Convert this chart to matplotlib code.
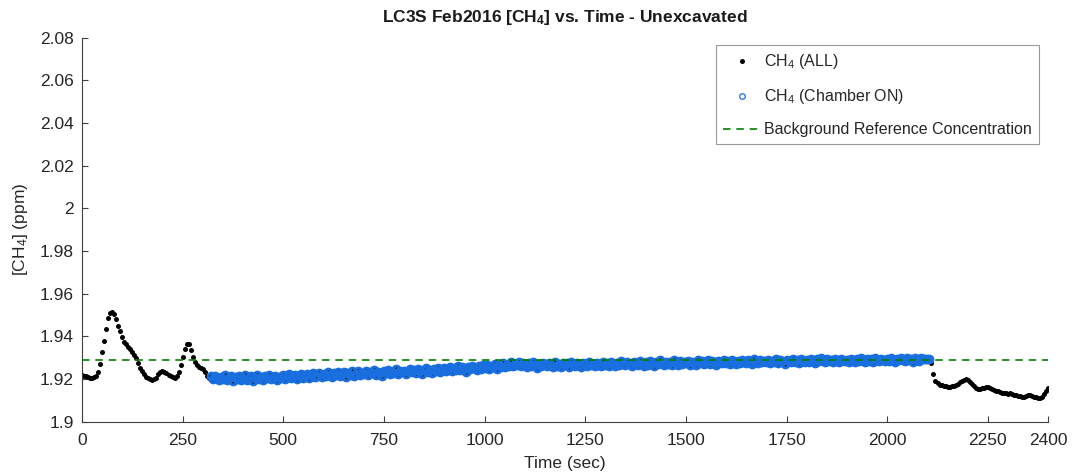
import numpy as np
import matplotlib
matplotlib.use("Agg")
import matplotlib.pyplot as plt
from matplotlib.ticker import FormatStrFormatter

plt.rcParams['font.family'] = ['Liberation Sans', 'DejaVu Sans']
plt.rcParams['mathtext.fontset'] = 'custom'
plt.rcParams['mathtext.rm'] = 'Liberation Sans'
plt.rcParams['mathtext.it'] = 'Liberation Sans:italic'
plt.rcParams['mathtext.bf'] = 'Liberation Sans:bold'

# analyser log, one reading every 5 s
sample_step = 5
ch4_ppm = [
    1.9220, 1.9216, 1.9213, 1.9210, 1.9207, 1.9206, 1.9208, 1.9212, 1.9232, 1.9272,
    1.9325, 1.9378, 1.9435, 1.9484, 1.9509, 1.9514, 1.9503, 1.9480, 1.9447, 1.9423,
    1.9395, 1.9372, 1.9362, 1.9352, 1.9341, 1.9327, 1.9312, 1.9298, 1.9276, 1.9254,
    1.9237, 1.9222, 1.9210, 1.9203, 1.9198, 1.9196, 1.9198, 1.9206, 1.9222, 1.9235,
    1.9238, 1.9234, 1.9227, 1.9220, 1.9213, 1.9208, 1.9204, 1.9212, 1.9232, 1.9265,
    1.9305, 1.9342, 1.9365, 1.9362, 1.9336, 1.9305, 1.9280, 1.9264, 1.9258, 1.9252,
    1.9246, 1.9232, 1.9215, 1.9206, 1.9212, 1.9198, 1.9215, 1.9203, 1.9194, 1.9210,
    1.9201, 1.9217, 1.9196, 1.9206, 1.9213, 1.9192, 1.9209, 1.9200, 1.9215, 1.9197,
    1.9203, 1.9218, 1.9195, 1.9207, 1.9212, 1.9190, 1.9204, 1.9219, 1.9199, 1.9208,
    1.9196, 1.9214, 1.9203, 1.9221, 1.9198, 1.9206, 1.9216, 1.9194, 1.9211, 1.9205,
    1.9217, 1.9200, 1.9213, 1.9224, 1.9203, 1.9210, 1.9219, 1.9198, 1.9215, 1.9226,
    1.9207, 1.9212, 1.9223, 1.9204, 1.9218, 1.9228, 1.9209, 1.9216, 1.9230, 1.9211,
    1.9225, 1.9212, 1.9231, 1.9218, 1.9208, 1.9227, 1.9220, 1.9235, 1.9214, 1.9224,
    1.9232, 1.9211, 1.9228, 1.9219, 1.9236, 1.9216, 1.9226, 1.9238, 1.9221, 1.9229,
    1.9224, 1.9240, 1.9218, 1.9233, 1.9227, 1.9242, 1.9221, 1.9235, 1.9229, 1.9216,
    1.9238, 1.9231, 1.9244, 1.9223, 1.9234, 1.9228, 1.9245, 1.9226, 1.9239, 1.9232,
    1.9240, 1.9225, 1.9236, 1.9249, 1.9231, 1.9242, 1.9228, 1.9246, 1.9237, 1.9222,
    1.9244, 1.9251, 1.9233, 1.9241, 1.9230, 1.9248, 1.9238, 1.9253, 1.9235, 1.9243,
    1.9250, 1.9236, 1.9247, 1.9257, 1.9239, 1.9252, 1.9244, 1.9260, 1.9241, 1.9255,
    1.9248, 1.9234, 1.9258, 1.9246, 1.9262, 1.9251, 1.9243, 1.9259, 1.9249, 1.9264,
    1.9252, 1.9266, 1.9245, 1.9260, 1.9256, 1.9270, 1.9249, 1.9264, 1.9258, 1.9273,
    1.9255, 1.9268, 1.9262, 1.9278, 1.9259, 1.9271, 1.9265, 1.9280, 1.9262, 1.9274,
    1.9268, 1.9257, 1.9275, 1.9263, 1.9280, 1.9266, 1.9254, 1.9272, 1.9261, 1.9277,
    1.9267, 1.9259, 1.9274, 1.9265, 1.9256, 1.9279, 1.9263, 1.9270, 1.9258, 1.9276,
    1.9264, 1.9273, 1.9257, 1.9280, 1.9268, 1.9261, 1.9276, 1.9266, 1.9255, 1.9274,
    1.9270, 1.9262, 1.9281, 1.9265, 1.9272, 1.9259, 1.9277, 1.9267, 1.9263, 1.9279,
    1.9268, 1.9276, 1.9262, 1.9281, 1.9270, 1.9259, 1.9277, 1.9266, 1.9283, 1.9272,
    1.9264, 1.9280, 1.9269, 1.9261, 1.9278, 1.9274, 1.9266, 1.9284, 1.9271, 1.9263,
    1.9279, 1.9268, 1.9285, 1.9273, 1.9262, 1.9281, 1.9270, 1.9287, 1.9276, 1.9265,
    1.9282, 1.9271, 1.9278, 1.9267, 1.9288, 1.9275, 1.9264, 1.9283, 1.9272, 1.9280,
    1.9274, 1.9286, 1.9268, 1.9281, 1.9277, 1.9266, 1.9289, 1.9275, 1.9283, 1.9270,
    1.9279, 1.9288, 1.9272, 1.9284, 1.9276, 1.9267, 1.9286, 1.9280, 1.9273, 1.9290,
    1.9277, 1.9285, 1.9271, 1.9289, 1.9280, 1.9269, 1.9284, 1.9276, 1.9291, 1.9282,
    1.9273, 1.9287, 1.9279, 1.9270, 1.9292, 1.9281, 1.9275, 1.9288, 1.9278, 1.9285,
    1.9280, 1.9290, 1.9274, 1.9286, 1.9281, 1.9294, 1.9277, 1.9288, 1.9283, 1.9272,
    1.9291, 1.9284, 1.9279, 1.9295, 1.9282, 1.9289, 1.9276, 1.9292, 1.9285, 1.9281,
    1.9290, 1.9279, 1.9294, 1.9285, 1.9276, 1.9292, 1.9283, 1.9297, 1.9287, 1.9280,
    1.9293, 1.9284, 1.9290, 1.9278, 1.9296, 1.9286, 1.9281, 1.9294, 1.9288, 1.9283,
    1.9291, 1.9281, 1.9296, 1.9287, 1.9279, 1.9294, 1.9285, 1.9298, 1.9289, 1.9282,
    1.9295, 1.9286, 1.9292, 1.9280, 1.9297, 1.9288, 1.9284, 1.9296, 1.9290, 1.9285,
    1.9293, 1.9283, 1.9298, 1.9289, 1.9281, 1.9296, 1.9287, 1.9300, 1.9291, 1.9284,
    1.9297, 1.9288, 1.9294, 1.9282, 1.9299, 1.9290, 1.9286, 1.9298, 1.9292, 1.9295,
    1.9293, 1.9296, 1.9275, 1.9225, 1.9193, 1.9180, 1.9174, 1.9171, 1.9168, 1.9166,
    1.9165, 1.9164, 1.9166, 1.9168, 1.9172, 1.9178, 1.9185, 1.9192, 1.9197, 1.9199,
    1.9197, 1.9188, 1.9177, 1.9168, 1.9160, 1.9155, 1.9153, 1.9156, 1.9160, 1.9163,
    1.9162, 1.9158, 1.9152, 1.9148, 1.9145, 1.9143, 1.9140, 1.9136, 1.9134, 1.9133,
    1.9131, 1.9133, 1.9130, 1.9126, 1.9124, 1.9122, 1.9119, 1.9117, 1.9118, 1.9122,
    1.9125, 1.9123, 1.9120, 1.9118, 1.9116, 1.9113, 1.9111, 1.9115, 1.9128, 1.9145,
    1.9160,
]
time_sec = np.arange(len(ch4_ppm)) * sample_step
ch4_ppm = np.array(ch4_ppm)

# chamber closed over the collar between these times
chamber_on_start = 320
chamber_on_end = 2105
background_ppm = 1.929

x_ticks = [0, 250, 500, 750, 1000, 1250, 1500, 1750, 2000, 2250, 2400]
y_ticks = [1.9, 1.92, 1.94, 1.96, 1.98, 2.0, 2.02, 2.04, 2.06, 2.08]

on = (time_sec >= chamber_on_start) & (time_sec <= chamber_on_end)

fig = plt.figure(figsize=(10.74, 4.76), dpi=100)
ax = fig.add_axes([0.0763, 0.114, 0.8997, 0.807])

ax.plot(time_sec, ch4_ppm, 'o', color='black', markersize=3.6,
        markeredgewidth=0, label='CH$_4$ (ALL)', zorder=2)
ax.plot(time_sec[on], ch4_ppm[on], 'o', markerfacecolor='none',
        markeredgecolor='#1a6fe0', markersize=5.0, markeredgewidth=2.0,
        label='CH$_4$ (Chamber ON)', zorder=3)
ax.axhline(background_ppm, color='#008000', linestyle=(0, (4.5, 3.5)),
           linewidth=1.2, label='Background Reference Concentration', zorder=4)

ax.set_xlim(0, 2400)
ax.set_ylim(1.9, 2.08)
ax.set_xticks(x_ticks)
ax.set_yticks(y_ticks)
ax.yaxis.set_major_formatter(FormatStrFormatter('%g'))

for side in ('top', 'right'):
    ax.spines[side].set_visible(False)
for side in ('left', 'bottom'):
    ax.spines[side].set_color('#404040')
    ax.spines[side].set_linewidth(0.8)
ax.tick_params(direction='in', length=4, width=0.8, color='#404040',
               labelcolor='#262626', labelsize=12.5)
ax.tick_params(axis='x', pad=8)
ax.tick_params(axis='y', pad=6)

ax.set_title(r'LC3S Feb2016 [CH$_\mathbf{4}$] vs. Time - Unexcavated',
             fontsize=12.5, fontweight='bold', color='#1a1a1a', pad=11)
ax.set_xlabel('Time (sec)', fontsize=12.5, color='#262626', labelpad=6)
ax.set_ylabel('[CH$_4$] (ppm)', fontsize=12.5, color='#262626', labelpad=7)

leg = ax.legend(loc='upper right', bbox_to_anchor=(1039 / 1074, 1 - 45 / 476),
                bbox_transform=fig.transFigure, borderaxespad=0,
                fontsize=11.5, frameon=True, fancybox=False,
                labelspacing=1.0, handlelength=2.4, handletextpad=0.15,
                borderpad=0.45, markerscale=1.0)
leg.get_frame().set_edgecolor('#808080')
leg.get_frame().set_linewidth(0.8)
leg.legend_handles[1].set_markersize(4.0)
leg.legend_handles[1].set_markeredgewidth(0.9)
for text in leg.get_texts():
    text.set_color('#262626')

fig.savefig('out.png', dpi=100)
